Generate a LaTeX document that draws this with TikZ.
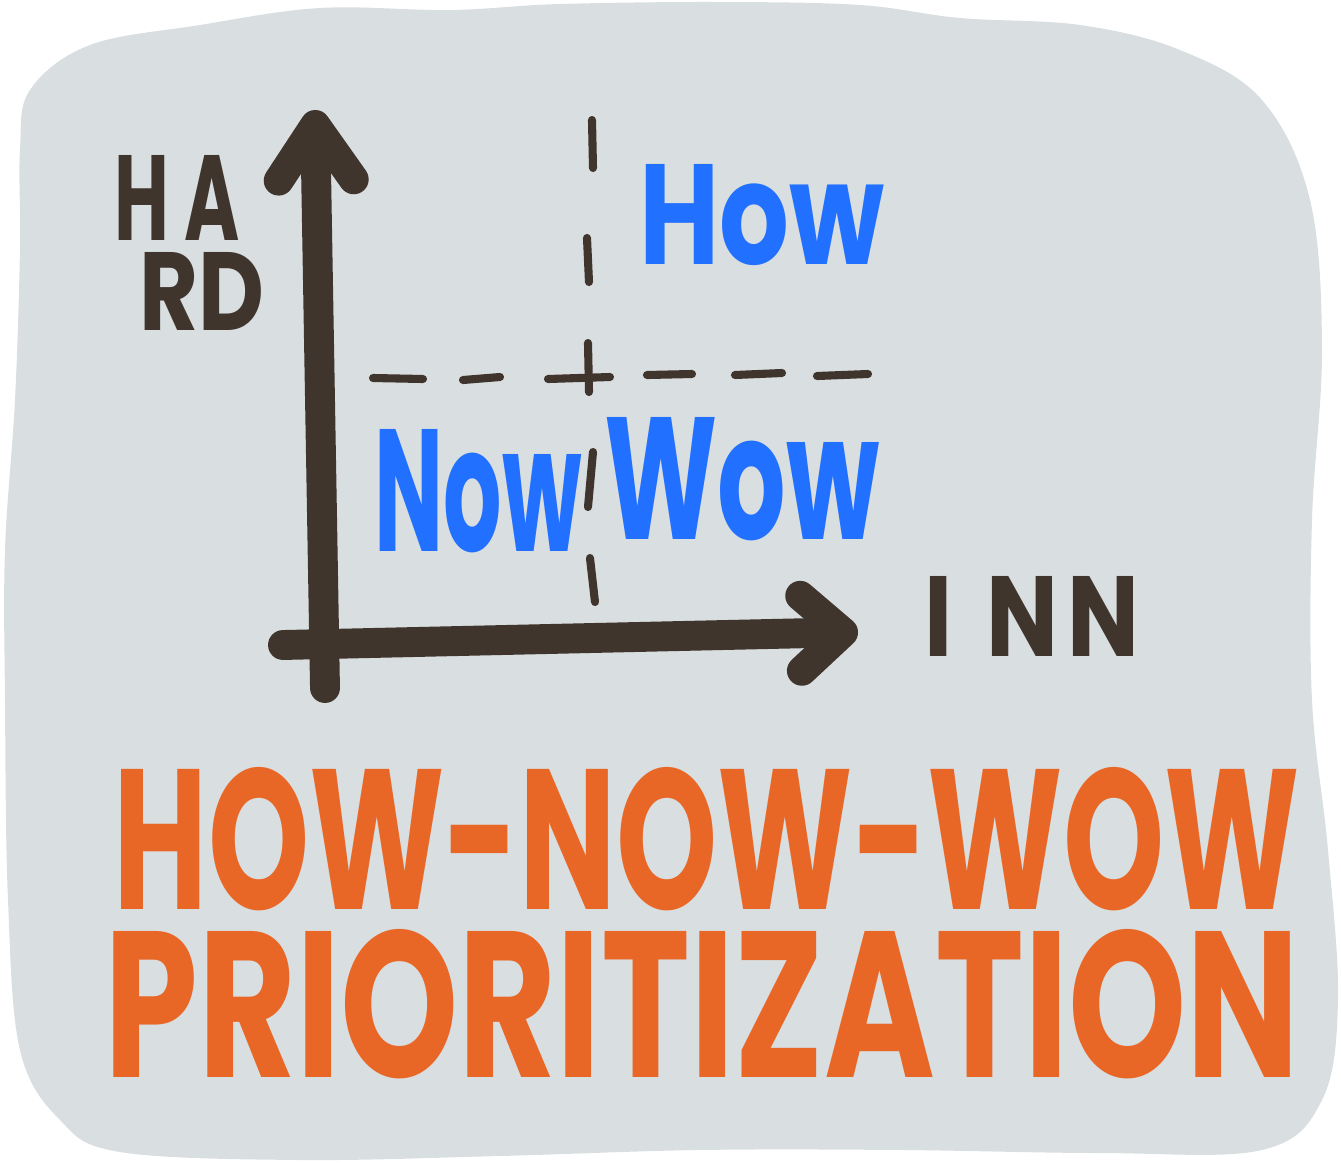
\documentclass[tikz,border=0pt]{standalone}
\usepackage{fontspec}
\setmainfont{Poppins}
\usepackage{graphicx}
\usetikzlibrary{positioning}
\usetikzlibrary{arrows.meta}
\definecolor{blobgrey}{HTML}{D9DEE0}
\definecolor{axisbrown}{HTML}{40352D}
\definecolor{howblue}{HTML}{2170FF}
\definecolor{titleorange}{HTML}{E96726}
\tikzset{axisarrow/.style = {line width=8.5pt, axisbrown, line cap=round,
                             -{Straight Barb[length=#1, width=7.5mm, round]}}}
\tikzset{guide/.style = {line width=2.3pt, axisbrown, line cap=round}}
\tikzset{quad/.style = {inner sep=0, text=howblue, font=\bfseries}}
\tikzset{axlabel/.style = {inner sep=0, text=axisbrown, font=\bfseries}}
\tikzset{title/.style = {inner sep=0, text=titleorange, font=\bfseries}}

\begin{document}
\begin{tikzpicture}[x=0.01cm, y=-0.01cm]
      \useasboundingbox (0,0) rectangle (1341,1163);
      % background blob
      \fill[blobgrey] plot[smooth cycle, tension=0.6] coordinates {
        (30,90) (90,45) (200,25) (320,8) (450,10) (560,4) (720,2) (860,5)
        (960,18) (1080,25) (1180,50) (1262,100) (1310,200) (1322,350)
        (1312,520) (1312,700) (1328,850) (1338,1000) (1322,1100) (1262,1150)
        (1100,1153) (900,1150) (700,1150) (500,1156) (300,1160) (120,1152)
        (60,1120) (20,1050) (8,900) (5,700) (5,550) (15,400) (20,250) (20,150)};
      % guides
      \foreach \xa/\ya/\xb/\yb in {373/378/423/379, 463/380/500/377, 548/379/610/377,
          647/375/692/374, 735/375/782/373, 817/376/868/374,
          592/120/593/168, 587/238/589/282, 588/343/589/392,
          593/452/588/507, 590/558/595/602}
        \draw[guide] (\xa,\ya) -- (\xb,\yb);
      % axes
      \coordinate (origin) at (325,688);
      \coordinate (ytip) at (315,110);
      \coordinate (xleft) at (283,645);
      \coordinate (xtip) at (858,632);
      \draw[axisarrow=5.5mm] (origin) -- (ytip);
      \draw[axisarrow=4.2mm] (xleft) -- (xtip);
      % labels
      \node[axlabel] (ha) at (177,198) {\resizebox{1.25cm}{0.85cm}{H\hspace{0.2em}A}};
      \node[axlabel] (rd) at (202,291) {\resizebox{1.25cm}{0.78cm}{RD}};
      \node[axlabel] (inn) at (1032,616) {\resizebox{2.15cm}{0.8cm}{I\hspace{0.35em}N\hspace{0.1em}N}};
      \node[quad] (how) at (762,215) {\resizebox{2.45cm}{1.0cm}{How}};
      \node[quad] (now) at (478,491) {\resizebox{2.07cm}{1.22cm}{Now}};
      \node[quad] (wow) at (742,479) {\resizebox{2.75cm}{1.22cm}{Wow}};
      \node[title] (title) at (707,839) {\resizebox{11.85cm}{1.42cm}{HOW-NOW-WOW}};
      \node[title] (subtitle) at (702,1004) {\resizebox{11.95cm}{1.48cm}{PRIORITIZATION}};
\end{tikzpicture}
\end{document}
